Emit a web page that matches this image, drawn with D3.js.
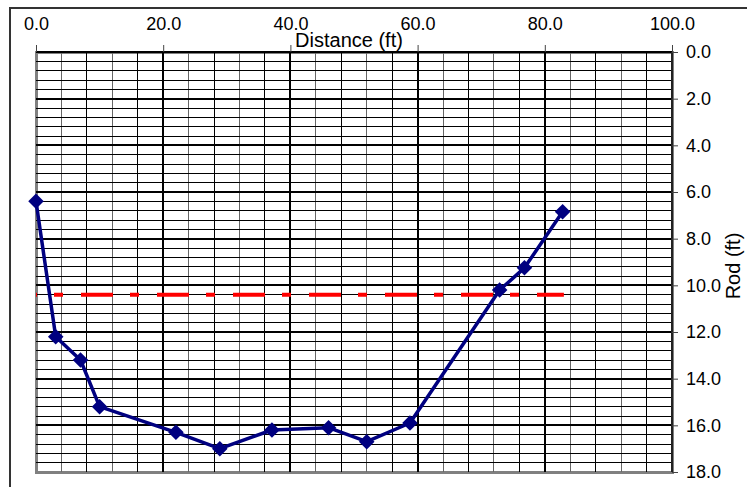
<!DOCTYPE html>
<html>
<head>
<meta charset="utf-8">
<script src="https://cdn.jsdelivr.net/npm/d3@7"></script>
<style>
  body { margin: 0; background: #fff; }
  text { font-family: Arial, "Liberation Sans", sans-serif; fill: #000; }
</style>
</head>
<body>
<div id="chart"></div>
<script>
// survey cross-section: distance along line vs rod reading
const distance = [0.0, 3.1, 7.0, 10.0, 22.0, 28.9, 37.1, 46.0, 52.0, 58.8, 72.9, 76.8, 82.8];
const rod = [6.4, 12.2, 13.2, 15.2, 16.3, 17.0, 16.2, 16.1, 16.7, 15.9, 10.2, 9.25, 6.85];
const waterLevel = 10.4;
const waterExtent = [0.0, 83.0];
const xTicks = [0, 20, 40, 60, 80, 100];
const yTicks = [0, 2, 4, 6, 8, 10, 12, 14, 16, 18];

const width = 747, height = 487;
const margin = { top: 52, right: 75, bottom: 15, left: 36 };

const svg = d3.select("#chart").append("svg")
    .attr("width", width).attr("height", height);

// outer chart frame (cropped at right/bottom)
svg.append("rect")
    .attr("x", 10).attr("y", 8)
    .attr("width", width + 20).attr("height", height + 20)
    .attr("fill", "none").attr("stroke", "#333").attr("stroke-width", 2);

const x = d3.scaleLinear().domain([0, 100]).range([margin.left, width - margin.right]);
const y = d3.scaleLinear().domain([0, 18]).range([margin.top, height - margin.bottom]);

const grid = svg.append("g").attr("shape-rendering", "crispEdges");

// plot area border
grid.append("rect")
    .attr("x", x(0)).attr("y", y(0))
    .attr("width", x(100) - x(0)).attr("height", y(18) - y(0))
    .attr("fill", "none").attr("stroke", "#808080").attr("stroke-width", 3);

// minor gridlines
const xMinor = d3.range(4, 100, 4).filter(v => v % 20 !== 0);
const yMinor = d3.range(0.4, 18, 0.4).filter(v => Math.abs(v / 2 - Math.round(v / 2)) > 0.01);

grid.selectAll(".xminor").data(xMinor).enter().append("line")
    .attr("x1", d => x(d)).attr("x2", d => x(d))
    .attr("y1", y(0)).attr("y2", y(18))
    .attr("stroke", (d, i) => i % 2 ? "#000" : "#666").attr("stroke-width", 1);

grid.selectAll(".yminor").data(yMinor).enter().append("line")
    .attr("x1", x(0)).attr("x2", x(100))
    .attr("y1", d => y(d)).attr("y2", d => y(d))
    .attr("stroke", "#000").attr("stroke-width", 1);

// major gridlines
grid.selectAll(".xmajor").data(xTicks.slice(1, -1)).enter().append("line")
    .attr("x1", d => x(d)).attr("x2", d => x(d))
    .attr("y1", y(0)).attr("y2", y(18))
    .attr("stroke", "#000").attr("stroke-width", 2);

grid.selectAll(".ymajor").data(yTicks.slice(0, -1)).enter().append("line")
    .attr("x1", x(0)).attr("x2", x(100))
    .attr("y1", d => y(d)).attr("y2", d => y(d))
    .attr("stroke", "#000").attr("stroke-width", 2);

grid.append("line")
    .attr("x1", x(100)).attr("x2", x(100)).attr("y1", y(0)).attr("y2", y(18))
    .attr("stroke", "#222").attr("stroke-width", 2);

// axes
const xAxis = d3.axisTop(x).tickValues(xTicks).tickFormat(d3.format(".1f"))
    .tickSize(7).tickPadding(15);
const gx = svg.append("g").attr("transform", `translate(0,${y(0)})`).call(xAxis);
gx.select(".domain").remove();
gx.selectAll("line").attr("stroke", "#444");
gx.selectAll("text").attr("font-size", 18);

const yAxis = d3.axisRight(y).tickValues(yTicks).tickFormat(d3.format(".1f"))
    .tickSize(6).tickPadding(8);
const gy = svg.append("g").attr("transform", `translate(${x(100)},0)`).call(yAxis);
gy.select(".domain").remove();
gy.selectAll("line").attr("stroke", "#444");
gy.selectAll("text").attr("font-size", 18);

svg.append("text")
    .attr("x", 349).attr("y", 47)
    .attr("text-anchor", "middle").attr("font-size", 20)
    .text("Distance (ft)");

svg.append("text")
    .attr("transform", `translate(740,${(y(0) + y(18)) / 2 + 4}) rotate(-90)`)
    .attr("text-anchor", "middle").attr("font-size", 20)
    .text("Rod (ft)");

// water surface
svg.append("line")
    .attr("x1", x(waterExtent[0])).attr("x2", x(waterExtent[1]))
    .attr("y1", y(waterLevel)).attr("y2", y(waterLevel))
    .attr("stroke", "#ff0000").attr("stroke-width", 4)
    .attr("stroke-dasharray", "9,18,32,17").attr("stroke-dashoffset", 58);

// ground profile
const points = distance.map((d, i) => ({ x: d, y: rod[i] }));
svg.append("path")
    .datum(points)
    .attr("fill", "none").attr("stroke", "#000080").attr("stroke-width", 3.5)
    .attr("stroke-linejoin", "round")
    .attr("d", d3.line().x(d => x(d.x)).y(d => y(d.y)));

svg.selectAll(".marker").data(points).enter().append("path")
    .attr("transform", d => `translate(${x(d.x)},${y(d.y)}) rotate(45)`)
    .attr("d", d3.symbol(d3.symbolSquare, 121))
    .attr("fill", "#000080");
</script>
</body>
</html>
